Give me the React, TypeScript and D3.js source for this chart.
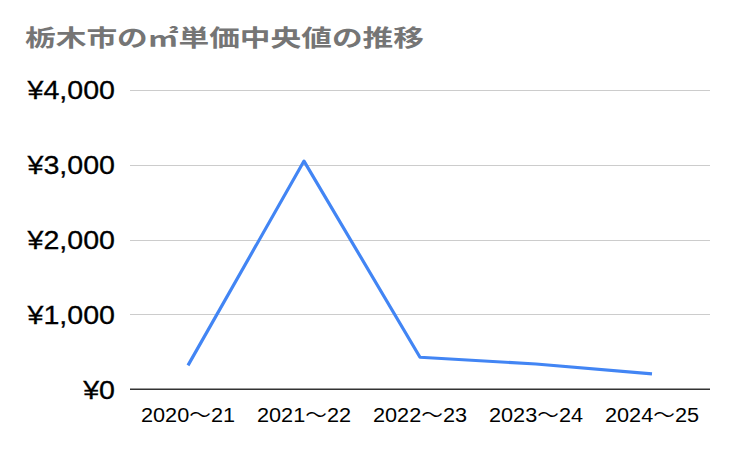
import { useEffect, useRef } from "react";
import * as d3 from "d3";

const title = "栃木市の㎡単価中央値の推移";
const periods = ["2020～21", "2021～22", "2022～23", "2023～24", "2024～25"];
const medianPrice = [320, 3050, 428, 338, 205];
const yTicks = [0, 1000, 2000, 3000, 4000];

const W = 732;
const H = 452;

export default function App() {
  const svgRef = useRef<SVGSVGElement | null>(null);

  useEffect(() => {
    const svg = d3.select(svgRef.current);
    svg.selectAll("*").remove();
    if (!svgRef.current) return;

    const left = 130;
    const right = 710;
    const top = 90;
    const bottom = 389.3;

    const x = d3.scalePoint<string>().domain(periods).range([left, right]).padding(0.5);
    const y = d3.scaleLinear().domain([0, 4000]).range([bottom, top]);
    const yen = (v: number) => "¥" + d3.format(",")(v);

    svg
      .append("rect")
      .attr("width", W)
      .attr("height", H)
      .attr("fill", "#fff");

    svg
      .append("text")
      .attr("x", 25)
      .attr("y", 46)
      .attr("fill", "#757575")
      .attr("font-family", "'Noto Sans CJK JP', 'Noto Sans CJK SC', sans-serif")
      .attr("font-weight", 700)
      .attr("font-size", 23)
      .attr("textLength", 399)
      .attr("lengthAdjust", "spacingAndGlyphs")
      .text(title);

    // gridlines
    svg
      .append("g")
      .selectAll("line")
      .data(yTicks.filter((t) => t > 0))
      .join("line")
      .attr("x1", left)
      .attr("x2", right)
      .attr("y1", (t) => Math.round(y(t)) + 0.5)
      .attr("y2", (t) => Math.round(y(t)) + 0.5)
      .attr("stroke", "#cccccc")
      .attr("stroke-width", 1);

    // baseline
    svg
      .append("line")
      .attr("x1", left)
      .attr("x2", right)
      .attr("y1", y(0))
      .attr("y2", y(0))
      .attr("stroke", "#333333")
      .attr("stroke-width", 1.5);

    // y labels
    svg
      .append("g")
      .selectAll("text")
      .data(yTicks)
      .join("text")
      .attr("transform", (t) => `translate(115,${y(t) + 9.3}) scale(1.1,1)`)
      .attr("text-anchor", "end")
      .attr("font-family", "'Liberation Sans', Arial, sans-serif")
      .attr("font-size", 26)
      .attr("fill", "#000")
      .attr("stroke", "#000")
      .attr("stroke-width", 0.3)
      .text((t) => yen(t));

    // x labels
    svg
      .append("g")
      .selectAll("text")
      .data(periods)
      .join("text")
      .attr("x", (p) => (x(p) as number) - 47)
      .attr("y", 421.7)
      .attr("textLength", 94)
      .attr("lengthAdjust", "spacingAndGlyphs")
      .attr("font-family", "'Liberation Sans', Arial, 'Noto Sans CJK JP', sans-serif")
      .attr("font-size", 19.5)
      .attr("fill", "#000")
      .text((p) => p);

    const line = d3
      .line<number>()
      .x((_, i) => x(periods[i]) as number)
      .y((v) => y(v));

    svg
      .append("path")
      .datum(medianPrice)
      .attr("d", line)
      .attr("fill", "none")
      .attr("stroke", "#4285f4")
      .attr("stroke-width", 3.2)
      .attr("stroke-linejoin", "round");
  }, []);

  return (
    <svg
      ref={svgRef}
      width={W}
      height={H}
      style={{ position: "absolute", left: 0, top: 0 }}
    />
  );
}
